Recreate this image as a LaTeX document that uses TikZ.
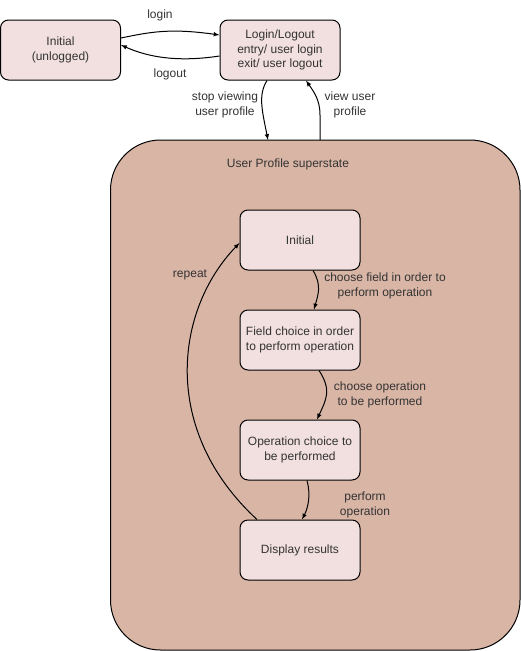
\documentclass[tikz,border=0pt]{standalone}
\usepackage{fontspec}
\setmainfont{Liberation Sans}
\definecolor{statefill}{RGB}{242,223,223}
\definecolor{superfill}{RGB}{217,181,165}
\tikzset{
  state/.style={draw, fill=statefill, rounded corners=8pt, minimum width=120pt,
    minimum height=60pt, align=center, inner sep=2pt},
  lbl/.style={align=center, inner sep=0pt},
}
\begin{document}
\begin{tikzpicture}[x=1pt,y=-1pt,line width=1pt,font=\fontsize{12}{14.5}\selectfont,text=black!80]
\useasboundingbox (0,0) rectangle (521,651);
\draw [fill=superfill, rounded corners=50pt] (110.5,140) rectangle (520,650);
\node [lbl] (suptitle) at (288,164) {User Profile superstate};
% top states
\node [state] (unlogged) at (60.5,50) {Initial\\(unlogged)};
\node [state] (loginout) at (280,50) {Login/Logout\\entry/ user login\\exit/ user logout};
% inner states
\node [state] (init) at (300,240) {Initial};
\node [state] (field) at (300,340) {Field choice in order\\to perform operation};
\node [state] (opchoice) at (300,450) {Operation choice to\\be performed};
\node [state] (display) at (300,550) {Display results};
% entry points on the superstate
\coordinate (supin) at (268,140);
\coordinate (supout) at (320,140);
% transitions
\draw [-latex] ([yshift=12pt]unlogged.east) .. controls (150,32) and (170,28) .. ([yshift=15pt]loginout.west);
\draw [-latex] ([yshift=-6pt]loginout.west) .. controls (180,62) and (150,58) .. ([yshift=5pt]unlogged.east);
\draw [-latex] ([xshift=-13pt]loginout.south) .. controls (258,95) and (262,110) .. (supin);
\draw [-latex] (supout) -- (320,115) .. controls (320,100) and (314,92) .. ([xshift=26pt]loginout.south);
\draw [-latex] ([xshift=13pt]init.south) .. controls (322,285) and (318,295) .. ([xshift=14pt]field.north);
\draw [-latex] ([xshift=19pt]field.south) .. controls (332,390) and (326,400) .. ([xshift=17pt]opchoice.north);
\draw [-latex] ([xshift=7pt]opchoice.south) .. controls (311,495) and (308,508) .. ([xshift=2pt]display.north);
\draw [-latex] ([xshift=-43pt]display.north) .. controls (160,430) and (175,310) .. ([yshift=-3pt]init.west);
% labels
\node [lbl] (llogin) at (160,15) {login};
\node [lbl] (llogout) at (170,74) {logout};
\node [lbl] (lstop) at (225,105) {stop viewing\\user profile};
\node [lbl] (lview) at (350,105) {view user\\profile};
\node [lbl] (lfield) at (385,286) {choose field in order to\\perform operation};
\node [lbl] (lop) at (380,395) {choose operation\\to be performed};
\node [lbl] (lperf) at (365,505) {perform\\operation};
\node [lbl] (lrepeat) at (190,275) {repeat};
\end{tikzpicture}
\end{document}
